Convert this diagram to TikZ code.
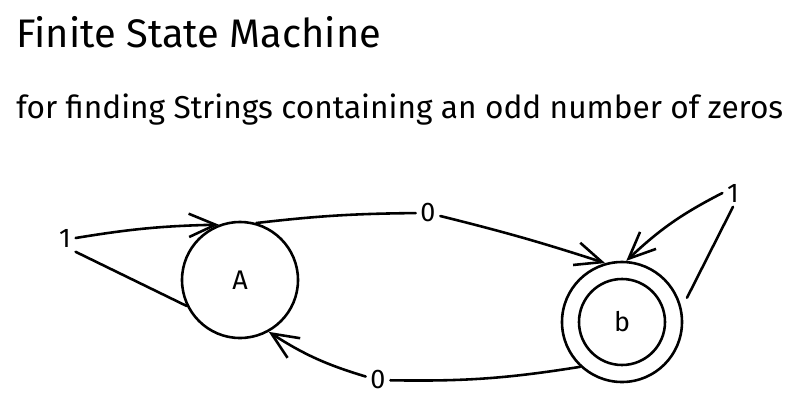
\documentclass[tikz,border=0pt]{standalone}
\usepackage{fontspec}
\setmainfont{Fira Sans}
\usetikzlibrary{arrows.meta}
\tikzset{>={Straight Barb[length=8mm,width=7mm,line width=2.2pt]}}

\begin{document}
\begin{tikzpicture}[x=0.03cm, y=-0.03cm, line width=2.2pt, line cap=round]
\tikzset{state/.style={circle, draw, line width=2.2pt, minimum size=3.48cm, inner sep=0pt, font=\fontsize{23}{26}\selectfont}}
\tikzset{sym/.style={inner sep=3pt, font=\fontsize{23}{26}\selectfont}}
    \useasboundingbox (0,0) rectangle (800,415);

    \node[anchor=base west, inner sep=0pt, font=\fontsize{34}{40}\selectfont] (title) at (15,47) {Finite State Machine};
    \node[anchor=base west, inner sep=0pt, font=\fontsize{27}{32}\selectfont] (subtitle) at (15,118) {for finding Strings containing an odd number of zeros};
% % % % % % % % % % % % % % % % % % %
    \node[state] (A) at (240,280) {A};
    \node[state, minimum size=3.6cm] (B) at (622,322) {b};
    \draw (B.center) circle (1.29cm);

    \node[sym] (oneA) at (65,238) {1};
    \node[sym] (zeroAB) at (428,213) {0};
    \node[sym] (zeroBA) at (378,380) {0};
    \node[sym] (oneB) at (733,193) {1};
% % % % % % % % % % % % % % % % % % %
    \draw (A.206) -- (oneA.south east);
    \draw[->] (oneA.east) to[bend left=4] (A.111);

    \draw (A.74) to[bend left=3] (zeroAB);
    \draw[->] (zeroAB) to[bend left=2] (B.106);

    \draw (B.227) to[bend left=5] (zeroBA);
    \draw[->] (zeroBA) to[bend left=8] (A.299);

    \draw[shorten <=10pt] (B.13) -- (oneB.south);
    \draw[->] (oneB.west) to[bend right=8] (B.86);
\end{tikzpicture}
\end{document}
